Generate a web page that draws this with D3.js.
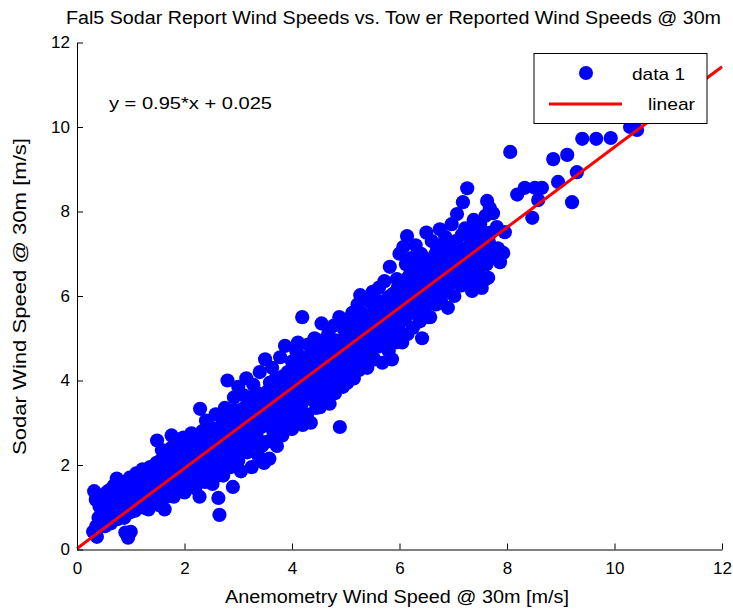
<!DOCTYPE html>
<html>
<head>
<meta charset="utf-8" />
<title>sodar vs tower</title>
<script src="https://d3js.org/d3.v7.min.js"></script>
<style>
    body { margin: 0; background: #ffffff; }
    svg { display: block; font-family: "Liberation Sans", Arial, sans-serif; }
    .axis path, .axis line { stroke: #000000; stroke-width: 1px; }
    .axis text { font-size: 17px; fill: #000000; }
</style>
</head>
<body>
<svg width="733" height="610"></svg>
<script>
// anemometry [m/s], sodar [m/s]
// edge / scattered points
var windPoints = [
    [0.32,1.38],[0.35,1.18],[0.36,0.55],[0.37,0.30],[0.30,0.42],[0.42,1.02],[0.45,0.82],[0.48,0.62],[0.50,1.25],
    [0.55,1.05],[0.58,0.78],[0.60,1.40],[0.62,0.95],[0.66,1.22],[0.70,0.88],[0.72,1.55],[0.74,1.68],[0.78,1.10],
    [0.80,0.80],[0.83,1.35],[0.86,1.00],[0.90,1.55],[0.90,0.40],[0.95,0.28],[0.97,1.25],[1.00,0.42],[0.99,0.88],[0.98,1.70],
    [1.03,1.05],[1.05,1.50],[1.08,0.92],[1.10,1.80],[1.12,1.28],[1.16,1.62],[1.20,1.00],[1.22,1.90],[1.25,1.40],[1.28,1.15],
    [1.30,1.72],[1.33,0.95],[1.36,1.95],[1.38,1.30],[1.40,1.55],[1.43,1.10],[1.45,1.85],[1.48,2.05],[1.49,2.58],[1.50,1.30],
    [1.52,1.65],[1.55,2.10],[1.58,2.35],[1.60,1.20],[1.63,0.95],[1.65,1.85],[1.68,1.45],[1.70,2.25],[1.73,2.05],[1.76,2.70],
    [1.78,1.60],[1.80,1.25],[1.82,2.45],[1.85,1.95],[1.88,1.40],[1.90,2.60],[1.93,2.20],[1.96,1.70],[1.98,2.65],[2.00,1.35],
    [2.03,2.00],[2.05,2.55],[2.08,1.55],[2.10,2.30],[2.13,2.75],[2.15,1.80],[2.18,2.10],[2.20,1.45],[2.22,2.60],[2.25,2.35],
    [2.28,1.25],[2.29,3.33],[2.30,1.95],[2.33,2.80],[2.36,2.15],[2.38,1.60],[2.40,3.05],[2.43,2.50],[2.46,1.85],[2.48,2.90],[2.50,2.20],
    [2.52,1.55],[2.55,2.70],[2.58,3.20],[2.60,2.00],[2.63,1.22],[2.65,0.82],[2.66,2.45],[2.70,2.95],[2.72,1.75],[2.75,3.35],
    [2.78,2.25],[2.80,4.00],[2.82,2.65],[2.85,1.95],[2.88,3.10],[2.90,1.48],[2.92,3.60],[2.95,2.40],[2.97,2.85],[3.00,3.85],[3.00,2.10],
    [3.03,3.30],[3.05,1.85],[3.08,2.60],[3.10,3.65],[3.12,2.95],[3.15,4.05],[3.17,2.30],[3.20,3.45],[3.22,2.75],[3.25,1.95],
    [3.28,3.90],[3.30,3.15],[3.33,2.50],[3.36,3.70],[3.38,2.20],[3.40,4.20],[3.43,2.90],[3.45,3.40],[3.48,2.05],[3.50,4.50],[3.50,3.00],
    [3.53,2.55],[3.55,3.75],[3.58,2.15],[3.60,3.25],[3.63,4.30],[3.65,2.80],[3.68,3.55],[3.70,4.05],[3.72,2.45],[3.75,3.05],
    [3.78,4.55],[3.80,3.80],[3.82,2.70],[3.85,3.35],[3.87,4.82],[3.90,2.95],[3.92,4.20],[3.95,3.60],[3.97,3.15],[4.00,4.45],[4.00,2.85],
    [4.03,3.90],[4.05,3.30],[4.08,4.70],[4.10,3.05],[4.11,4.90],[4.13,3.65],[4.15,4.25],[4.18,3.45],[4.19,5.50],[4.20,2.95],
    [4.22,4.55],[4.25,3.85],[4.28,3.20],[4.30,4.85],[4.32,4.10],[4.35,3.00],[4.37,3.55],[4.40,4.60],[4.42,5.00],[4.45,3.35],[4.48,4.30],[4.50,3.80],
    [4.52,3.37],[4.55,5.35],[4.56,4.55],[4.58,3.90],[4.60,4.95],[4.63,3.60],[4.65,4.20],[4.68,5.15],[4.70,3.45],[4.72,4.75],
    [4.75,4.00],[4.78,5.30],[4.80,3.70],[4.82,4.45],[4.85,3.95],[4.88,5.50],[4.89,2.90],[4.90,4.90],[4.93,4.20],[4.95,3.85],[4.97,5.20],[5.00,4.60],
    [5.03,3.95],[5.05,5.45],[5.08,4.30],[5.10,4.85],[5.12,5.60],[5.15,4.05],[5.18,5.00],[5.20,4.55],[5.22,5.80],[5.25,4.25],
    [5.27,6.02],[5.30,5.25],[5.32,4.70],[5.35,5.55],[5.38,4.40],[5.40,4.30],[5.42,5.00],[5.45,5.85],[5.47,4.60],[5.50,5.35],[5.50,6.10],
    [5.53,4.50],[5.55,5.10],[5.58,5.90],[5.60,4.80],[5.62,6.20],[5.65,5.45],[5.68,4.42],[5.70,5.70],[5.72,6.35],[5.75,5.00],
    [5.78,5.95],[5.80,4.70],[5.82,6.69],[5.84,5.30],[5.86,4.50],[5.88,6.05],[5.90,5.60],[5.93,4.90],[5.95,6.40],[5.98,5.20],[6.00,7.00],
    [6.02,5.80],[6.05,4.90],[6.07,7.16],[6.08,6.30],[6.10,5.45],[6.12,6.75],[6.14,7.42],[6.15,5.10],[6.18,6.00],[6.20,5.60],
    [6.22,6.90],[6.25,5.25],[6.28,6.50],[6.30,7.20],[6.32,5.85],[6.35,6.15],[6.38,5.40],[6.40,7.00],[6.42,5.00],[6.44,6.60],[6.47,5.70],[6.50,7.50],[6.50,6.20],
    [6.53,5.50],[6.55,6.85],[6.57,5.50],[6.60,7.30],[6.62,6.00],[6.65,6.55],[6.68,5.80],[6.70,7.10],[6.72,6.30],[6.75,7.58],
    [6.77,5.90],[6.80,6.80],[6.83,6.10],[6.85,7.40],[6.88,6.55],[6.90,5.72],[6.92,7.00],[6.95,6.30],[6.97,7.70],[7.00,6.70],
    [7.02,6.00],[7.05,7.30],[7.07,7.94],[7.10,6.50],[7.12,7.00],[7.15,6.25],[7.18,8.22],[7.20,6.80],[7.22,7.60],[7.26,8.55],
    [7.28,6.35],[7.30,7.20],[7.33,6.90],[7.35,6.12],[7.38,7.80],[7.40,6.60],[7.43,7.40],[7.45,7.00],[7.48,6.30],[7.50,7.70],
    [7.53,6.19],[7.55,7.20],[7.58,6.38],[7.60,7.90],[7.63,8.25],[7.65,6.43],[7.68,6.92],[7.68,8.08],[7.70,7.50],[7.74,7.96],
    [7.78,7.10],[7.81,7.63],[7.83,7.13],[7.87,6.80],[7.93,7.02],[7.96,7.51],
    [8.06,9.41],[8.19,8.40],[8.33,8.56],[8.47,7.85],[8.52,8.56],[8.58,8.27],[8.65,8.56],[8.86,9.24],[8.95,8.70],
    [9.12,9.34],[9.21,8.22],[9.30,8.93],[9.40,9.72],[9.66,9.72],[9.93,9.74],[10.29,10.00],[10.42,9.93]
];

// dense core of the cloud, close to the fit line
var corePoints = [
    [0.40,0.75],[0.52,0.55],[0.55,1.35],[0.63,0.62],[0.68,1.50],[0.76,0.72],[0.82,1.60],[0.88,0.75],[0.93,1.10],[0.96,1.45],
    [1.02,1.30],[1.07,1.68],[1.13,1.05],[1.18,1.45],[1.24,1.70],[1.27,0.98],[1.32,1.45],[1.37,1.70],[1.42,1.35],[1.46,1.60],
    [1.53,1.05],[1.56,1.45],[1.60,1.95],[1.62,1.60],[1.67,1.25],[1.72,1.75],[1.75,2.40],[1.79,2.00],[1.83,1.70],[1.86,2.30],
    [1.91,1.55],[1.94,1.95],[1.97,2.40],
    [2.02,1.75],[2.06,2.15],[2.09,2.40],[2.12,1.60],[2.16,2.45],[2.19,1.95],[2.23,2.15],[2.26,2.65],[2.31,1.70],[2.34,2.40],
    [2.37,2.60],[2.41,1.95],[2.44,2.25],[2.47,2.65],[2.53,2.05],[2.56,2.45],[2.59,2.85],[2.62,1.75],[2.67,2.70],[2.69,2.20],
    [2.73,3.05],[2.76,2.50],[2.79,1.95],[2.83,2.95],[2.86,2.40],[2.90,3.30],[2.93,2.15],[2.96,2.65],[2.99,3.20],
    [3.02,2.50],[3.06,3.05],[3.09,2.30],[3.11,3.35],[3.14,2.75],[3.18,3.20],[3.21,2.50],[3.24,3.60],[3.27,2.90],[3.31,3.45],
    [3.34,2.70],[3.37,3.10],[3.41,3.60],[3.44,2.45],[3.47,3.20],[3.52,3.50],[3.56,2.95],[3.59,3.95],[3.62,2.60],[3.66,3.30],
    [3.69,3.00],[3.73,3.70],[3.76,3.35],[3.79,2.90],[3.83,4.10],[3.86,3.55],[3.89,3.15],[3.93,3.85],[3.96,3.40],[3.99,4.00],
    [4.02,3.50],[4.06,4.15],[4.09,3.70],[4.12,4.40],[4.16,3.20],[4.19,3.95],[4.23,4.30],[4.26,3.60],[4.29,4.05],[4.33,4.55],
    [4.36,3.80],[4.39,4.30],[4.43,3.60],[4.46,4.05],[4.49,4.70],[4.53,4.20],[4.57,3.75],[4.61,4.40],[4.64,5.00],[4.67,4.00],
    [4.71,4.55],[4.74,3.80],[4.77,4.35],[4.81,4.95],[4.84,4.20],[4.87,4.65],[4.91,4.10],[4.94,4.50],[4.98,5.00],
    [5.02,4.30],[5.06,4.75],[5.09,5.20],[5.13,4.50],[5.16,4.80],[5.19,5.35],[5.23,4.70],[5.26,5.00],[5.29,5.60],[5.33,4.95],
    [5.36,5.25],[5.39,4.70],[5.43,5.45],[5.46,5.05],[5.49,4.85],[5.52,5.60],[5.56,4.80],[5.59,5.30],[5.63,5.70],[5.66,5.00],
    [5.69,5.40],[5.73,5.85],[5.76,5.20],[5.79,5.55],[5.83,6.00],[5.87,5.05],[5.91,5.80],[5.94,5.40],[5.97,6.20],
    [6.03,5.40],[6.06,6.05],[6.09,5.70],[6.13,6.40],[6.16,5.60],[6.19,6.50],[6.23,5.90],[6.26,6.25],[6.29,5.60],[6.33,6.70],
    [6.36,5.95],[6.39,6.40],[6.43,5.75],[6.46,6.90],[6.49,6.00],[6.54,6.50],[6.58,6.20],[6.61,6.75],[6.64,5.90],[6.67,7.00],
    [6.71,6.55],[6.74,6.10],[6.78,7.20],[6.81,6.40],[6.84,6.95],[6.87,6.20],[6.91,6.60],[6.94,7.25],[6.98,6.45],
    [7.03,6.75],[7.06,6.35],[7.09,7.15],[7.13,6.60],[7.16,7.45],[7.19,6.55],[7.23,7.05],[7.27,6.70],[7.31,7.50],[7.34,6.50],
    [7.37,7.10],[7.41,6.80],[7.44,7.60],[7.47,6.60],[7.52,7.30],[7.56,6.90],[7.59,7.50],[7.62,6.75],[7.66,7.30],[7.71,7.00]
];

var fitX = [0, 12];
var fitY = [0.025, 11.425];

var xTicks = [0, 2, 4, 6, 8, 10, 12];
var yTicks = [0, 2, 4, 6, 8, 10, 12];

var svg = d3.select('svg');

var x = d3.scaleLinear().domain([0, 12]).range([77, 722]);
var y = d3.scaleLinear().domain([0, 12]).range([549.5, 42.5]);

// scatter
svg.append('g')
    .selectAll('circle')
    .data(windPoints.concat(corePoints))
    .enter()
    .append('circle')
    .attr('cx', function(d) { return x(d[0]); })
    .attr('cy', function(d) { return y(d[1]); })
    .attr('r', 7.1)
    .attr('fill', '#0000ff');

// linear fit
var line = d3.line()
    .x(function(d) { return x(d[0]); })
    .y(function(d) { return y(d[1]); });

svg.append('path')
    .datum(d3.zip(fitX, fitY))
    .attr('d', line)
    .attr('fill', 'none')
    .attr('stroke', '#ff0000')
    .attr('stroke-width', 3);

// axes, ticks pointing inward
svg.append('g')
    .attr('class', 'axis')
    .attr('transform', 'translate(0,549.5)')
    .call(d3.axisBottom(x).tickValues(xTicks).tickSizeInner(-6).tickSizeOuter(0).tickPadding(12));

svg.append('g')
    .attr('class', 'axis')
    .attr('transform', 'translate(77,0)')
    .call(d3.axisLeft(y).tickValues(yTicks).tickSizeInner(-6).tickSizeOuter(0).tickPadding(7));

// title and labels
svg.append('text')
    .attr('x', 393.5).attr('y', 24)
    .attr('text-anchor', 'middle')
    .attr('font-size', 18)
    .attr('textLength', 655).attr('lengthAdjust', 'spacingAndGlyphs')
    .text('Fal5 Sodar Report Wind Speeds vs. Tow er Reported Wind Speeds @ 30m');

svg.append('text')
    .attr('x', 397).attr('y', 603)
    .attr('text-anchor', 'middle')
    .attr('font-size', 18)
    .attr('textLength', 344).attr('lengthAdjust', 'spacingAndGlyphs')
    .text('Anemometry Wind Speed @ 30m [m/s]');

svg.append('text')
    .attr('transform', 'translate(26,296.5) rotate(-90)')
    .attr('text-anchor', 'middle')
    .attr('font-size', 18)
    .attr('textLength', 317).attr('lengthAdjust', 'spacingAndGlyphs')
    .text('Sodar Wind Speed @ 30m [m/s]');

svg.append('text')
    .attr('x', 109).attr('y', 109)
    .attr('font-size', 17)
    .attr('textLength', 163).attr('lengthAdjust', 'spacingAndGlyphs')
    .text('y = 0.95*x + 0.025');

// legend
var legend = svg.append('g');
legend.append('rect')
    .attr('x', 534).attr('y', 53.5).attr('width', 173).attr('height', 70)
    .attr('fill', '#ffffff').attr('stroke', '#000000').attr('stroke-width', 1);
legend.append('circle')
    .attr('cx', 586).attr('cy', 73).attr('r', 7).attr('fill', '#0000ff');
legend.append('line')
    .attr('x1', 549).attr('x2', 622).attr('y1', 104).attr('y2', 104)
    .attr('stroke', '#ff0000').attr('stroke-width', 3);
legend.append('text')
    .attr('x', 632).attr('y', 80).attr('font-size', 17)
    .attr('textLength', 53).attr('lengthAdjust', 'spacingAndGlyphs')
    .text('data 1');
legend.append('text')
    .attr('x', 648).attr('y', 110).attr('font-size', 17)
    .attr('textLength', 47).attr('lengthAdjust', 'spacingAndGlyphs')
    .text('linear');
</script>
</body>
</html>
